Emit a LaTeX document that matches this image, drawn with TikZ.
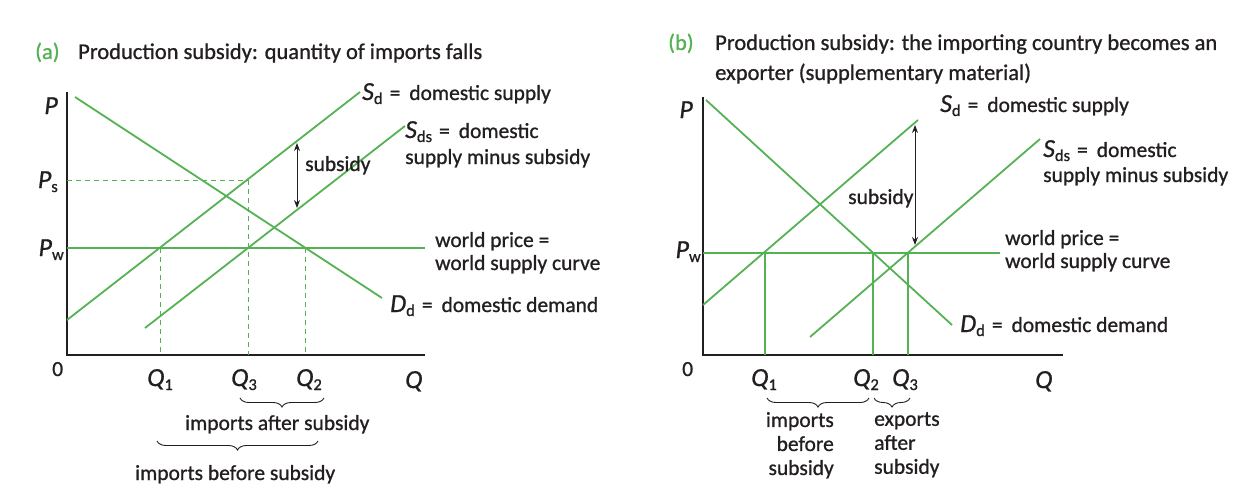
\documentclass[tikz,border=0pt]{standalone}
\usepackage{fontspec}
\setmainfont{Carlito}[FakeBold=0.9]
\usetikzlibrary{arrows.meta,decorations.pathreplacing}
\definecolor{curvegreen}{RGB}{84,178,84}
\definecolor{inkgray}{RGB}{35,31,32}
\newcommand{\lbl}[2]{{\fontsize{26}{26}\selectfont\textit{#1}}\raisebox{-4pt}{\fontsize{16.5}{16}\selectfont #2}}
\newcommand{\eqs}{\hspace{7pt}=\hspace{9pt}}

\begin{document}
\begin{tikzpicture}[x=1pt,y=-1pt,>={Stealth[length=8pt,width=6pt]},font=\fontsize{21.5}{24}\selectfont,
  curve/.style={curvegreen,line width=1.8pt},
  guide/.style={curvegreen,line width=1pt,dash pattern=on 5pt off 4pt},
  axis/.style={inkgray,line width=2pt},
  lab/.style={anchor=base west,inner sep=0pt,text=inkgray},
  ttl/.style={lab,font=\fontsize{22.5}{26}\selectfont},
  brc/.style={decorate,decoration={brace,amplitude=9pt,mirror},inkgray,line width=0.9pt}]
\useasboundingbox (0,0) rectangle (1252,492);
%% (a) quantity of imports falls
\node[ttl,text=curvegreen] (aTag) at (35,59) {(a)};
\node[ttl] (aTitle) at (78,59) {Production subsidy: quantity of imports falls};
\coordinate (aTop) at (67,92); \coordinate (aO) at (67,355); \coordinate (aEnd) at (425,355);
\draw[axis] (aTop) -- (aO) -- (aEnd);
\coordinate (aD0) at (75,97); \coordinate (aD1) at (382,298);
\coordinate (aS0) at (67,320); \coordinate (aS1) at (360,92);
\coordinate (aT0) at (145,328); \coordinate (aT1) at (405,126);
\coordinate (aW0) at (67,248); \coordinate (aW1) at (425,248);
\coordinate (aPs) at (67,180); \coordinate (aE3) at (248,180);
\draw[guide] (aPs) -- (aE3);
\foreach \x/\y in {160/248,248/180,305/248}{\draw[guide] (\x,\y) -- (\x,355);}
\draw[curve] (aW0) -- (aW1);
\draw[curve] (aD0) -- (aD1);
\draw[curve] (aS0) -- (aS1);
\draw[curve] (aT0) -- (aT1);
\coordinate (aSubTop) at (297,143); \coordinate (aSubBot) at (297,208);
\draw[<->,inkgray,line width=0.9pt] (aSubTop) -- (aSubBot);
\node[lab] (aSub) at (305,171) {subsidy};
\node[lab,anchor=base east] (aP) at (58,114) {\lbl{P}{}};
\node[lab,anchor=base east] (aPsL) at (58,188) {\lbl{P}{s}};
\node[lab,anchor=base east] (aPwL) at (64,256) {\lbl{P}{w}};
\node[lab] (aZero) at (52,376) {0};
\node[lab] (aQ1) at (147,386) {\lbl{Q}{1}};
\node[lab] (aQ3) at (231,386) {\lbl{Q}{3}};
\node[lab] (aQ2) at (296,386) {\lbl{Q}{2}};
\node[lab] (aQ) at (405,388) {\lbl{Q}{}};
\node[lab] (aSd) at (362,100) {\lbl{S}{d}\eqs domestic supply};
\node[lab] (aSds) at (405,138) {\lbl{S}{ds}\eqs domestic};
\node[lab] (aSds2) at (405,164) {supply minus subsidy};
\node[lab] (aWp) at (435,247) {world price =};
\node[lab] (aWp2) at (435,270) {world supply curve};
\node[lab] (aDd) at (390,312) {\lbl{D}{d}\eqs domestic demand};
\coordinate (aB1) at (240,398); \coordinate (aB2) at (324,398);
\draw[brc] (aB1) -- (aB2);
\node[lab] (aAfter) at (185,430) {imports after subsidy};
\coordinate (aB3) at (157,441); \coordinate (aB4) at (318,441);
\draw[brc] (aB3) -- (aB4);
\node[lab] (aBefore) at (135,480) {imports before subsidy};
%% (b) importing country becomes an exporter
\node[ttl,text=curvegreen] (bTag) at (668,50) {(b)};
\node[ttl] (bTitle) at (715,50) {Production subsidy: the importing country becomes an};
\node[ttl] (bTitle2) at (715,80) {exporter (supplementary material)};
\coordinate (bTop) at (703,97); \coordinate (bO) at (703,355); \coordinate (bEnd) at (1063,355);
\draw[axis] (bTop) -- (bO) -- (bEnd);
\coordinate (bD0) at (706,100); \coordinate (bD1) at (952,325);
\coordinate (bS0) at (703,305); \coordinate (bS1) at (918,120);
\coordinate (bT0) at (810,337); \coordinate (bT1) at (1040,139);
\coordinate (bW0) at (703,253); \coordinate (bW1) at (1000,253);
\foreach \x in {765,873,908}{\draw[curve,line width=1.4pt] (\x,253) -- (\x,355);}
\draw[curve] (bW0) -- (bW1);
\draw[curve] (bD0) -- (bD1);
\draw[curve] (bS0) -- (bS1);
\draw[curve] (bT0) -- (bT1);
\coordinate (bSubTop) at (915,125); \coordinate (bSubBot) at (915,245);
\draw[<->,inkgray,line width=0.9pt] (bSubTop) -- (bSubBot);
\node[lab] (bSub) at (848,204) {subsidy};
\node[lab,anchor=base east] (bP) at (693,118) {\lbl{P}{}};
\node[lab,anchor=base east] (bPwL) at (701,258) {\lbl{P}{w}};
\node[lab] (bZero) at (682,376) {0};
\node[lab] (bQ1) at (751,386) {\lbl{Q}{1}};
\node[lab] (bQ2) at (853,386) {\lbl{Q}{2}};
\node[lab] (bQ3) at (892,386) {\lbl{Q}{3}};
\node[lab] (bQ) at (1035,388) {\lbl{Q}{}};
\node[lab] (bSd) at (940,112) {\lbl{S}{d}\eqs domestic supply};
\node[lab] (bSds) at (1043,157) {\lbl{S}{ds}\eqs domestic};
\node[lab] (bSds2) at (1043,182) {supply minus subsidy};
\node[lab] (bWp) at (1005,245) {world price =};
\node[lab] (bWp2) at (1005,268) {world supply curve};
\node[lab] (bDd) at (960,332) {\lbl{D}{d}\eqs domestic demand};
\coordinate (bB1) at (767,398); \coordinate (bB2) at (869,398);
\draw[brc] (bB1) -- (bB2);
\coordinate (bB3) at (874,398); \coordinate (bB4) at (910,398);
\draw[brc] (bB3) -- (bB4);
\node[anchor=north east,align=right,inner sep=0pt,text=inkgray] (bImp) at (834,412) {imports\\before\\subsidy};
\node[anchor=north west,align=left,inner sep=0pt,text=inkgray] (bExp) at (874,412) {exports\\after\\subsidy};
\end{tikzpicture}
\end{document}
